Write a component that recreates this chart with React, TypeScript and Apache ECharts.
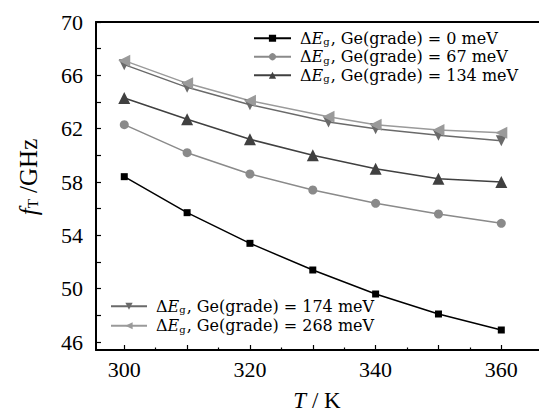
import React, { useEffect, useRef } from "react";
import * as echarts from "echarts";

const temps = [300, 310, 320, 330, 340, 350, 360];
const tempsUpper = [300, 310, 320, 332.5, 340, 350, 360];
const fT0 = [58.4, 55.7, 53.4, 51.4, 49.6, 48.1, 46.9];
const fT67 = [62.3, 60.2, 58.6, 57.4, 56.4, 55.6, 54.9];
const fT134 = [64.3, 62.7, 61.2, 60.0, 59.0, 58.25, 58.0];
const fT174 = [66.8, 65.1, 63.8, 62.5, 62.0, 61.5, 61.1];
const fT268 = [67.1, 65.4, 64.1, 62.9, 62.3, 61.9, 61.7];
const names = ["0 meV", "67 meV", "134 meV", "174 meV", "268 meV"];
const xLabels = [300, 320, 340, 360];
const xMajor = [300, 310, 320, 330, 340, 350, 360];
const xMinor = [305, 315, 325, 335, 345, 355];
const yLabels = [46, 50, 54, 58, 62, 66, 70];
const yTicks = [46, 48, 50, 52, 54, 56, 58, 60, 62, 64, 66, 68, 70];

const FONT = "Liberation Serif";
const LFONT = "DejaVu Serif";

const pairs = (xs: number[], ys: number[]) => xs.map((x, i) => [x, ys[i]]);

export default function App() {
  const ref = useRef<HTMLDivElement>(null);
  useEffect(() => {
    const chart = echarts.init(ref.current!, undefined, { renderer: "svg" });
    const legendRich = {
      d: { fontFamily: LFONT, fontSize: 16, color: "#000", lineHeight: 18.5 },
      i: { fontFamily: LFONT, fontSize: 16, fontStyle: "italic", color: "#000", lineHeight: 18.5 },
      s: { fontFamily: LFONT, fontSize: 10, color: "#000", padding: [7, 1, 0, 0], lineHeight: 18.5 },
      n: { fontFamily: LFONT, fontSize: 16, color: "#000", lineHeight: 18.5 },
    };
    const fmt = (name: string) => `{d|Δ}{i|E}{s|g}{n|, Ge(grade) = ${name}}`;
    const mk = (
      name: string,
      xs: number[],
      ys: number[],
      color: string,
      symbol: string,
      size: number,
      rot: number
    ) => ({
      type: "line",
      name,
      data: pairs(xs, ys),
      xAxisIndex: 0,
      yAxisIndex: 0,
      symbol,
      symbolSize: size,
      symbolRotate: rot,
      showAllSymbol: true,
      lineStyle: { color, width: 1.5 },
      itemStyle: { color },
      z: 3,
    });
    const axisBase = {
      type: "value",
      min: 295.5,
      max: 366,
      splitLine: { show: false },
    };
    chart.setOption({
      animation: false,
      backgroundColor: "#fff",
      grid: { left: 96, right: -9, top: 22, bottom: 64 },
      xAxis: [
        {
          ...axisBase,
          position: "bottom",
          axisLine: { show: true, lineStyle: { color: "#000", width: 2 } },
          axisTick: {
            show: true,
            inside: true,
            length: 5,
            customValues: xMajor,
            lineStyle: { color: "#000", width: 1.2 },
          },
          axisLabel: {
            show: true,
            customValues: xLabels,
            margin: 8,
            fontFamily: FONT,
            fontSize: 22,
            color: "#000",
          },
        },
        {
          ...axisBase,
          position: "top",
          axisLine: { show: true, lineStyle: { color: "#000", width: 2 } },
          axisTick: { show: false },
          axisLabel: { show: false },
        },
        {
          ...axisBase,
          position: "bottom",
          axisLine: { show: false },
          axisTick: {
            show: true,
            inside: true,
            length: 2.5,
            customValues: xMinor,
            lineStyle: { color: "#000", width: 1.2 },
          },
          axisLabel: { show: false },
        },
      ],
      yAxis: [
        {
          type: "value",
          min: 45.4,
          max: 70,
          splitLine: { show: false },
          axisLine: { show: true, lineStyle: { color: "#000", width: 2 } },
          axisTick: {
            show: true,
            inside: true,
            length: 5,
            customValues: yTicks,
            lineStyle: { color: "#000", width: 1.2 },
          },
          axisLabel: {
            show: true,
            customValues: yLabels,
            margin: 13,
            fontFamily: FONT,
            fontSize: 22,
            color: "#000",
          },
        },
      ],
      legend: [
        {
          data: names.slice(0, 3),
          orient: "vertical",
          left: 253,
          top: 29,
          padding: 0,
          itemGap: 0,
          itemWidth: 37,
          itemHeight: 9,
          formatter: fmt,
          textStyle: { rich: legendRich, lineHeight: 18.5, padding: [0, 0, 0, 4] },
          selectedMode: false,
        },
        {
          data: names.slice(3),
          orient: "vertical",
          left: 110,
          top: 297,
          padding: 0,
          itemGap: 1,
          itemWidth: 36,
          itemHeight: 9,
          formatter: fmt,
          textStyle: { rich: legendRich, lineHeight: 18.5, padding: [0, 0, 0, 4] },
          selectedMode: false,
        },
      ],
      series: [
        mk(names[0], temps, fT0, "#000000", "rect", 7, 0),
        mk(names[1], temps, fT67, "#8a8a8a", "circle", 9, 0),
        mk(names[2], temps, fT134, "#404040", "triangle", 12, 0),
        mk(names[3], tempsUpper, fT174, "#6a6a6a", "triangle", 11, 180),
        mk(names[4], tempsUpper, fT268, "#9a9a9a", "triangle", 12, 90),
      ],
      graphic: [
        {
          type: "text",
          x: 28,
          y: 177,
          rotation: Math.PI / 2,
          style: {
            text: "{i|f}{s|T}{n| /GHz}",
            align: "center",
            verticalAlign: "middle",
            rich: {
              i: { fontFamily: FONT, fontSize: 25, fontStyle: "italic", fill: "#000", color: "#000" },
              s: { fontFamily: FONT, fontSize: 15, fill: "#000", color: "#000", padding: [10, 0, 0, 0] },
              n: { fontFamily: FONT, fontSize: 25, fill: "#000", color: "#000" },
            },
          },
        },
        {
          type: "text",
          x: 317,
          y: 400,
          style: {
            text: "{i|T}{n| / K}",
            align: "center",
            verticalAlign: "middle",
            rich: {
              i: { fontFamily: FONT, fontSize: 23, fontStyle: "italic", fill: "#000", color: "#000" },
              n: { fontFamily: FONT, fontSize: 23, fill: "#000", color: "#000" },
            },
          },
        },
      ],
    });
    return () => chart.dispose();
  }, []);
  return (
    <div
      ref={ref}
      style={{ position: "absolute", left: 0, top: 0, width: 539, height: 414, background: "#fff" }}
    />
  );
}
